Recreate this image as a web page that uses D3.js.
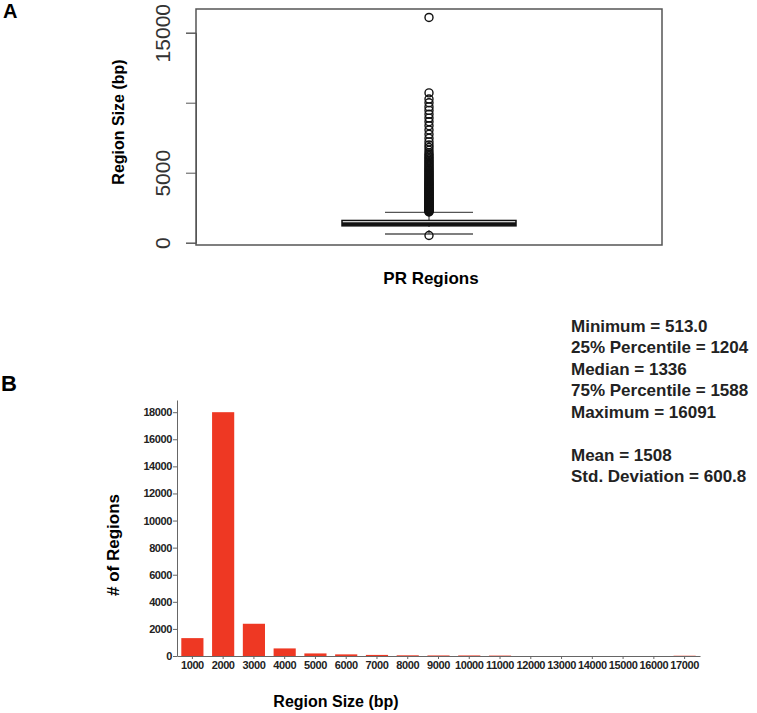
<!DOCTYPE html>
<html>
<head>
<meta charset="utf-8">
<script src="https://cdn.jsdelivr.net/npm/d3@7"></script>
<style>
  body { margin: 0; background: #fff; }
  svg { font-family: "Liberation Sans", Arial, sans-serif; }
</style>
</head>
<body>
<svg id="chart" width="757" height="713"></svg>
<script>
// panel A: box plot summary
const boxStats = { low: 621, q1: 1204, median: 1336, q3: 1588, high: 2171 };
const boxTicks = [0, 5000, 10000, 15000];
const boxTickLabels = ["0", "5000", "", "15000"];
const outliers = [513,
  2190, 2230, 2270, 2310, 2350, 2390, 2430, 2470, 2520, 2560, 2600, 2650, 2690, 2740, 2780, 2830,
  2870, 2920, 2960, 3010, 3060, 3100, 3150, 3200, 3250, 3300, 3350, 3400, 3450, 3500, 3560, 3610,
  3660, 3720, 3770, 3830, 3880, 3940, 4000, 4060, 4120, 4180, 4240, 4300, 4370, 4430, 4500, 4570,
  4640, 4710, 4780, 4850, 4930, 5000, 5080, 5160, 5240, 5320, 5410, 5500, 5590, 5680, 5780, 5880,
  5980, 6080, 6190, 6300, 6420, 6600, 6800, 6980, 7200, 7460, 7750, 8050, 8350, 8640, 8900, 9170,
  9450, 9700, 10000, 10260, 10700, 16091];

// panel B: histogram
const sizeBins = ["1000", "2000", "3000", "4000", "5000", "6000", "7000", "8000", "9000",
  "10000", "11000", "12000", "13000", "14000", "15000", "16000", "17000"];
const regionCounts = [1320, 18000, 2380, 560, 190, 120, 80, 50, 40, 40, 30, 0, 0, 0, 0, 0, 20];
const countTicks = [0, 2000, 4000, 6000, 8000, 10000, 12000, 14000, 16000, 18000];

const statLines = ["Minimum = 513.0", "25% Percentile = 1204", "Median = 1336", "75% Percentile = 1588",
  "Maximum = 16091", "", "Mean = 1508", "Std. Deviation = 600.8"];

const svg = d3.select("#chart");

// ---------- A ----------
svg.append("text").attr("x", 3).attr("y", 18)
  .attr("font-size", 20).attr("font-weight", "bold").text("A");

const yA = d3.scaleLinear().domain([0, 15000]).range([242.7, 32.7]);
const frameA = { x0: 196, x1: 662, y0: 9, y1: 245 };
const cx = 429;

svg.append("rect")
  .attr("x", frameA.x0).attr("y", frameA.y0)
  .attr("width", frameA.x1 - frameA.x0).attr("height", frameA.y1 - frameA.y0)
  .attr("fill", "none").attr("stroke", "#555").attr("stroke-width", 1.5);

const axA = svg.append("g").attr("transform", `translate(${frameA.x0},0)`)
  .call(d3.axisLeft(yA).tickValues(boxTicks).tickSize(10).tickFormat((d, i) => boxTickLabels[i]));
axA.select(".domain").attr("stroke", "#555");
axA.selectAll(".tick line").attr("stroke", "#555");
axA.selectAll(".tick text")
  .attr("font-size", 21).attr("fill", "#333").attr("font-family", "Liberation Sans, Arial")
  .attr("text-anchor", "middle").attr("transform", "rotate(-90)")
  .attr("x", 0).attr("y", -26).attr("dy", 0);

svg.append("text")
  .attr("transform", "translate(124,122) rotate(-90)")
  .attr("text-anchor", "middle").attr("font-size", 16).attr("font-weight", "bold")
  .text("Region Size (bp)");

// whiskers
svg.append("line").attr("x1", cx).attr("x2", cx)
  .attr("y1", yA(boxStats.low)).attr("y2", yA(boxStats.high))
  .attr("stroke", "#222").attr("stroke-width", 1).attr("stroke-dasharray", "4,3");
[boxStats.low, boxStats.high].forEach(v => {
  svg.append("line").attr("x1", cx - 44).attr("x2", cx + 44)
    .attr("y1", yA(v)).attr("y2", yA(v))
    .attr("stroke", "#555").attr("stroke-width", 1.3);
});
// box
svg.append("rect")
  .attr("x", cx - 87).attr("width", 174)
  .attr("y", yA(boxStats.q3)).attr("height", yA(boxStats.q1) - yA(boxStats.q3))
  .attr("fill", "#fff").attr("stroke", "#111").attr("stroke-width", 1.5);
svg.append("line").attr("x1", cx - 87).attr("x2", cx + 87)
  .attr("y1", yA(boxStats.median)).attr("y2", yA(boxStats.median))
  .attr("stroke", "#111").attr("stroke-width", 3.5);
// outliers
svg.append("g").selectAll("circle").data(outliers).join("circle")
  .attr("cx", cx).attr("cy", d => yA(d)).attr("r", 4)
  .attr("fill", "none").attr("stroke", "#111").attr("stroke-width", 1.4);

svg.append("text").attr("x", 431).attr("y", 284)
  .attr("text-anchor", "middle").attr("font-size", 17).attr("font-weight", "bold")
  .text("PR Regions");

// ---------- stats ----------
svg.append("g").selectAll("text").data(statLines).join("text")
  .attr("x", 571).attr("y", (d, i) => 331.7 + i * 21.5)
  .attr("font-size", 17).attr("font-weight", "bold").attr("fill", "#222")
  .text(d => d);

// ---------- B ----------
svg.append("text").attr("x", 1).attr("y", 391)
  .attr("font-size", 22).attr("font-weight", "bold").text("B");

const xB = d3.scaleBand().domain(sizeBins).range([177, 700]).paddingInner(0.28).paddingOuter(0.14);
const yB = d3.scaleLinear().domain([0, 18900]).range([656, 400]);

svg.append("g").selectAll("rect").data(regionCounts).join("rect")
  .attr("x", (d, i) => xB(sizeBins[i])).attr("width", xB.bandwidth())
  .attr("y", d => yB(d)).attr("height", d => yB(0) - yB(d))
  .attr("fill", "#ee3823");

const axBy = svg.append("g").attr("transform", "translate(177,0)")
  .call(d3.axisLeft(yB).tickValues(countTicks).tickFormat(d3.format("d"))
    .tickSize(4).tickSizeOuter(0).tickPadding(1));
const axBx = svg.append("g").attr("transform", "translate(0,656)")
  .call(d3.axisBottom(xB).tickSize(3).tickSizeOuter(0).tickPadding(2));
[axBy, axBx].forEach(a => {
  a.select(".domain").attr("stroke", "#666");
  a.selectAll(".tick line").attr("stroke", "#666");
  a.selectAll(".tick text").attr("font-size", 11).attr("font-weight", "bold")
    .attr("fill", "#222").attr("font-family", "Liberation Sans, Arial")
    .attr("letter-spacing", -0.4);
});

svg.append("text")
  .attr("transform", "translate(119,545) rotate(-90)")
  .attr("text-anchor", "middle").attr("font-size", 17).attr("font-weight", "bold")
  .text("# of Regions");

svg.append("text").attr("x", 336).attr("y", 707)
  .attr("text-anchor", "middle").attr("font-size", 16).attr("font-weight", "bold")
  .text("Region Size (bp)");
</script>
</body>
</html>
